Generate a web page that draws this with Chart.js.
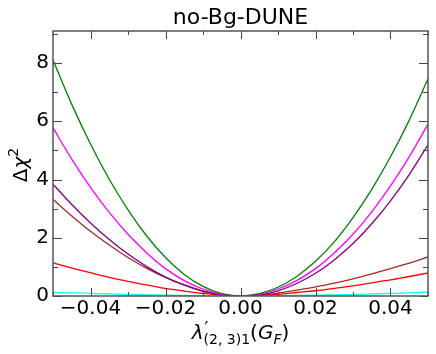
<!DOCTYPE html>
<html>
<head>
<meta charset="utf-8">
<script src="https://cdn.jsdelivr.net/npm/chart.js@4/dist/chart.umd.min.js"></script>
<style>
html,body{margin:0;padding:0;background:#fff;}
canvas{display:block;}
</style>
</head>
<body>
<canvas id="c" width="436" height="354"></canvas>
<script>
const xValues = [-0.05,-0.045,-0.04,-0.035,-0.03,-0.025,-0.02,-0.015,-0.01,-0.005,0,0.005,0.01,0.015,0.02,0.025,0.03,0.035,0.04,0.045,0.05];
const greenValues   = [8.10,6.58,5.22,4.01,2.96,2.06,1.32,0.74,0.33,0.08,0,0.08,0.30,0.67,1.19,1.86,2.69,3.66,4.78,6.04,7.46];
const magentaValues = [5.78,4.70,3.73,2.87,2.12,1.48,0.94,0.53,0.24,0.06,0,0.06,0.24,0.53,0.94,1.48,2.12,2.89,3.78,4.78,5.90];
const purpleValues  = [3.84,3.14,2.51,1.94,1.44,1.01,0.65,0.37,0.16,0.04,0,0.04,0.18,0.43,0.78,1.24,1.80,2.48,3.27,4.17,5.19];
const brownValues   = [3.32,2.75,2.22,1.75,1.32,0.95,0.64,0.38,0.18,0.05,0,0.03,0.10,0.20,0.31,0.44,0.59,0.76,0.94,1.13,1.34];
const redValues     = [1.14,0.96,0.80,0.64,0.50,0.38,0.26,0.17,0.09,0.03,0,0.02,0.06,0.12,0.18,0.26,0.35,0.45,0.55,0.67,0.79];
const cyanValues    = [0.12,0.11,0.09,0.07,0.05,0.04,0.03,0.02,0.01,0.00,0,0.00,0.01,0.02,0.03,0.04,0.05,0.07,0.09,0.11,0.13];

const xTicks = [-0.04,-0.02,0,0.02,0.04];
const xMinorTicks = [-0.05,-0.03,-0.01,0.01,0.03,0.05];
const yTicks = [0,2,4,6,8];
const yMinorTicks = [1,3,5,7,9];

const series = [
  {name:'green', values: greenValues, color:'#008000'},
  {name:'magenta', values: magentaValues, color:'#ff00ff'},
  {name:'purple', values: purpleValues, color:'#800080'},
  {name:'brown', values: brownValues, color:'#a52a2a'},
  {name:'red', values: redValues, color:'#ff0000'},
  {name:'cyan', values: cyanValues, color:'#00ffff'}
];

const FONT = "'DejaVu Sans', sans-serif";

const decor = {
  id: 'decor',
  afterDraw(chart) {
    const ctx = chart.ctx;
    const a = chart.chartArea;
    const xs = chart.scales.x, ys = chart.scales.y;
    ctx.save();
    ctx.strokeStyle = '#444';
    ctx.lineWidth = 1;
    const drawX = (vals, len) => vals.forEach(v => {
      const p = Math.round(xs.getPixelForValue(v)) + 0.5;
      ctx.beginPath();
      ctx.moveTo(p, a.bottom); ctx.lineTo(p, a.bottom - len);
      ctx.moveTo(p, a.top); ctx.lineTo(p, a.top + len);
      ctx.stroke();
    });
    const drawY = (vals, len) => vals.forEach(v => {
      const p = Math.round(ys.getPixelForValue(v)) + 0.5;
      ctx.beginPath();
      ctx.moveTo(a.left, p); ctx.lineTo(a.left + len, p);
      ctx.moveTo(a.right, p); ctx.lineTo(a.right - len, p);
      ctx.stroke();
    });
    drawX(xTicks, 8); drawX(xMinorTicks, 4);
    drawY(yTicks, 9); drawY(yMinorTicks, 5);
    ctx.strokeStyle = '#555';
    ctx.lineWidth = 1.5;
    ctx.strokeRect(a.left, a.top, a.right - a.left, a.bottom - a.top);

    ctx.fillStyle = '#000';
    ctx.textAlign = 'center';
    ctx.textBaseline = 'alphabetic';
    ctx.font = '22px ' + FONT;
    ctx.fillText('no-Bg-DUNE', (a.left + a.right) / 2, 24);

    const main = 20, sub = 14;
    const segs = [
      {t:'λ', f:'italic ' + main + 'px ' + FONT, dy:0},
      {t:'\u2032', f: '17px ' + FONT, dy:-5},
      {t:'(2, 3)1', f: sub + 'px ' + FONT, dy:5},
      {t:'(', f: main + 'px ' + FONT, dy:0},
      {t:'G', f:'italic ' + main + 'px ' + FONT, dy:0},
      {t:'F', f:'italic ' + sub + 'px ' + FONT, dy:5},
      {t:')', f: main + 'px ' + FONT, dy:0}
    ];
    ctx.textAlign = 'left';
    let widths = segs.map(s => { ctx.font = s.f; return ctx.measureText(s.t).width; });
    let total = widths.reduce((p, c) => p + c, 0) - widths[1];
    let x = (a.left + a.right) / 2 - total / 2;
    const base = 339;
    segs.forEach((s, i) => {
      ctx.font = s.f;
      if (i === 1) { ctx.fillText(s.t, x + 1, base + s.dy); return; }
      ctx.fillText(s.t, x, base + s.dy);
      x += widths[i];
    });

    ctx.save();
    ctx.translate(27, 165);
    ctx.rotate(-Math.PI / 2);
    const ysegs = [
      {t:'Δ', f: main + 'px ' + FONT, dy:0},
      {t:'χ', f:'italic ' + main + 'px ' + FONT, dy:0},
      {t:'2', f: sub + 'px ' + FONT, dy:-9}
    ];
    let yw = ysegs.map(s => { ctx.font = s.f; return ctx.measureText(s.t).width; });
    let yx = -yw.reduce((p, c) => p + c, 0) / 2;
    ysegs.forEach((s, i) => { ctx.font = s.f; ctx.fillText(s.t, yx, s.dy); yx += yw[i]; });
    ctx.restore();
    ctx.restore();
  }
};

new Chart(document.getElementById('c'), {
  type: 'line',
  data: {
    datasets: series.map(s => ({
      label: s.name,
      data: xValues.map((x, i) => ({x: x, y: s.values[i]})),
      borderColor: s.color,
      backgroundColor: s.color,
      borderWidth: 1.3,
      pointRadius: 0,
      fill: false,
      cubicInterpolationMode: 'monotone'
    }))
  },
  options: {
    responsive: false,
    animation: false,
    layout: {padding: {top: 31, right: 8, left: 0, bottom: 0}},
    plugins: {legend: {display: false}, tooltip: {enabled: false}, title: {display: false}},
    scales: {
      x: {
        type: 'linear', min: -0.05, max: 0.05,
        grid: {display: false, drawTicks: false},
        border: {display: false},
        ticks: {
          font: {family: 'DejaVu Sans', size: 20}, color: '#000', padding: 1,
          maxRotation: 0, autoSkip: false,
          callback: v => v.toFixed(2).replace('-', '\u2212')
        },
        afterBuildTicks: s => { s.ticks = xTicks.map(v => ({value: v})); },
        afterFit: s => { s.height = 58; }
      },
      y: {
        type: 'linear', min: 0, max: 9.1,
        grid: {display: false, drawTicks: false},
        border: {display: false},
        ticks: {
          font: {family: 'DejaVu Sans', size: 20}, color: '#000', padding: 4,
          autoSkip: false,
          callback: v => String(v)
        },
        afterBuildTicks: s => { s.ticks = yTicks.map(v => ({value: v})); },
        afterFit: s => { s.height = s.height; s.width = 53; }
      }
    }
  },
  plugins: [decor]
});
</script>
</body>
</html>
